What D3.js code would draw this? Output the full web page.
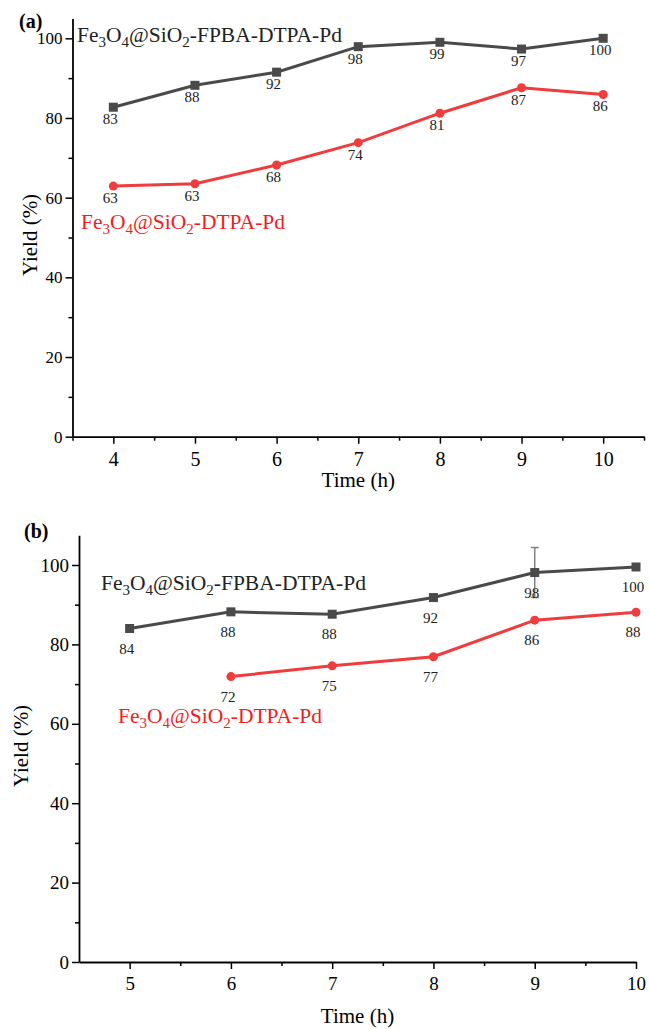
<!DOCTYPE html>
<html>
<head>
<meta charset="utf-8">
<script src="https://cdn.jsdelivr.net/npm/d3@7"></script>
<style>
  body { margin: 0; background: #fff; }
  svg text { font-family: "Times New Roman", "Liberation Serif", serif; }
</style>
</head>
<body>
<div id="chart"></div>
<script>
// panel (a)
const timesA = [4, 5, 6, 7, 8, 9, 10]
const fpbaA = [82.7, 88.2, 91.5, 97.9, 99.0, 97.3, 100]
const fpbaLabelsA = ["83", "88", "92", "98", "99", "97", "100"]
const dtpaA = [62.9, 63.5, 68.2, 73.8, 81.2, 87.6, 85.9]
const dtpaLabelsA = ["63", "63", "68", "74", "81", "87", "86"]

// panel (b)
const timesB = [5, 6, 7, 8, 9, 10]
const fpbaB = [84.0, 88.2, 87.6, 91.8, 98.1, 99.5]
const fpbaLabelsB = ["84", "88", "88", "92", "98", "100"]
const timesBred = [6, 7, 8, 9, 10]
const dtpaB = [71.9, 74.6, 76.9, 86.1, 88.1]
const dtpaLabelsB = ["72", "75", "77", "86", "88"]
const errB = [null, null, null, null, 6.3, null]

const yTicks = [0, 20, 40, 60, 80, 100]

// legend names, [text, is subscript]
const nameFpba = [["Fe", 0], ["3", 1], ["O", 0], ["4", 1], ["@SiO", 0], ["2", 1], ["-FPBA-DTPA-Pd", 0]]
const nameDtpa = [["Fe", 0], ["3", 1], ["O", 0], ["4", 1], ["@SiO", 0], ["2", 1], ["-DTPA-Pd", 0]]

const dark = "#4a4a4a"
const red = "#f03c3c"

const svg = d3.select("#chart").append("svg")
    .attr("width", 649)
    .attr("height", 1029)

function legendText(g, parts, x, y, color) {
    const t = g.append("text")
        .attr("x", x)
        .attr("y", y)
        .attr("fill", color)
        .style("font-size", "21.5px")
    let down = false
    parts.forEach(p => {
        const sub = p[1] === 1
        let dy = 0
        if (sub && !down) dy = 5
        if (!sub && down) dy = -5
        down = sub
        t.append("tspan")
            .attr("dy", dy)
            .style("font-size", sub ? "15px" : "21.5px")
            .text(p[0])
    })
}

function drawPanel(cfg) {
    const g = svg.append("g")

    const x = d3.scaleLinear().domain(cfg.xDomain).range(cfg.xRange)
    const y = d3.scaleLinear().domain(cfg.yDomain).range(cfg.yRange)

    // minor ticks
    g.append("g")
        .attr("transform", `translate(0,${cfg.yRange[0]})`)
        .call(d3.axisBottom(x).tickValues(cfg.xMinor).tickSize(4).tickSizeOuter(0).tickFormat(""))
        .call(a => a.select(".domain").remove())
    g.append("g")
        .attr("transform", `translate(${cfg.xRange[0]},0)`)
        .call(d3.axisLeft(y).tickValues([10, 30, 50, 70, 90]).tickSize(4).tickSizeOuter(0).tickFormat(""))
        .call(a => a.select(".domain").remove())

    // X axis
    const xa = g.append("g")
        .attr("transform", `translate(0,${cfg.yRange[0]})`)
        .call(d3.axisBottom(x).tickValues(cfg.xTicks).tickSize(7).tickSizeOuter(0).tickPadding(8).tickFormat(d3.format("d")))
    xa.selectAll("text").style("font-size", cfg.xTickFont).attr("fill", "#000")

    // Y axis
    const ya = g.append("g")
        .attr("transform", `translate(${cfg.xRange[0]},0)`)
        .call(d3.axisLeft(y).tickValues(yTicks).tickSize(7).tickSizeOuter(0).tickPadding(3))
    ya.selectAll("text").style("font-size", cfg.yTickFont).attr("fill", "#000")

    g.selectAll(".domain").attr("stroke", "#000").attr("stroke-width", 1.8)
    g.selectAll(".tick line").attr("stroke", "#000").attr("stroke-width", 1.5)

    // axis titles
    g.append("text")
        .attr("x", (cfg.xRange[0] + cfg.xRange[1]) / 2)
        .attr("y", cfg.xTitleY)
        .attr("text-anchor", "middle")
        .style("font-size", "21px")
        .text("Time (h)")

    g.append("text")
        .attr("transform", "rotate(-90)")
        .attr("x", -cfg.yTitleY)
        .attr("y", cfg.yTitleX)
        .attr("text-anchor", "middle")
        .style("font-size", "21px")
        .text("Yield (%)")

    // panel letter
    g.append("text")
        .attr("x", cfg.letterPos[0])
        .attr("y", cfg.letterPos[1])
        .style("font-size", "20px")
        .style("font-weight", "bold")
        .text(cfg.letter)

    const line = d3.line().x(d => x(d[0])).y(d => y(d[1]))

    // error bars
    const barData = cfg.black.t.map((t, i) => [t, cfg.black.v[i], cfg.black.err ? cfg.black.err[i] : null])
        .filter(d => d[2] != null)
    barData.forEach(d => {
        const eg = g.append("g").attr("stroke", "#808080").attr("stroke-width", 1.5)
        eg.append("line")
            .attr("x1", x(d[0])).attr("x2", x(d[0]))
            .attr("y1", y(d[1] - d[2])).attr("y2", y(d[1] + d[2]))
        ;[d[1] - d[2], d[1] + d[2]].forEach(v => {
            eg.append("line")
                .attr("x1", x(d[0]) - 4).attr("x2", x(d[0]) + 4)
                .attr("y1", y(v)).attr("y2", y(v))
        })
    })

    // black series
    const bd = cfg.black.t.map((t, i) => [t, cfg.black.v[i]])
    g.append("path")
        .datum(bd)
        .attr("fill", "none")
        .attr("stroke", dark)
        .attr("stroke-width", 3)
        .attr("d", line)
    g.selectAll(".sq")
        .data(bd)
        .enter().append("rect")
        .attr("x", d => x(d[0]) - 4.5)
        .attr("y", d => y(d[1]) - 4.5)
        .attr("width", 9)
        .attr("height", 9)
        .attr("fill", dark)

    // red series
    const rd = cfg.red.t.map((t, i) => [t, cfg.red.v[i]])
    g.append("path")
        .datum(rd)
        .attr("fill", "none")
        .attr("stroke", red)
        .attr("stroke-width", 3)
        .attr("d", line)
    g.selectAll(".ci")
        .data(rd)
        .enter().append("circle")
        .attr("cx", d => x(d[0]))
        .attr("cy", d => y(d[1]))
        .attr("r", 4.5)
        .attr("fill", red)

    // value labels
    ;[[bd, cfg.black.labels], [rd, cfg.red.labels]].forEach(([pts, labels]) => {
        g.selectAll(null)
            .data(pts)
            .enter().append("text")
            .attr("x", d => x(d[0]) - 3)
            .attr("y", d => y(d[1]) + cfg.labelDy)
            .attr("text-anchor", "middle")
            .attr("fill", "#222")
            .style("font-size", "15px")
            .text((d, i) => labels[i])
    })

    legendText(g, nameFpba, cfg.legBlack[0], cfg.legBlack[1], "#222")
    legendText(g, nameDtpa, cfg.legRed[0], cfg.legRed[1], "#f51c1c")
}

drawPanel({
    letter: "(a)", letterPos: [19, 28],
    xDomain: [3.5, 10.5], xRange: [72.5, 644],
    yDomain: [0, 105], yRange: [436.7, 436.7 - 105 * 3.984],
    xTicks: timesA, xMinor: [3.5, 4.5, 5.5, 6.5, 7.5, 8.5, 9.5, 10.5],
    xTickFont: "20px", yTickFont: "17px",
    xTitleY: 487, yTitleX: 37, yTitleY: 235,
    labelDy: 17,
    black: { t: timesA, v: fpbaA, labels: fpbaLabelsA },
    red: { t: timesA, v: dtpaA, labels: dtpaLabelsA },
    legBlack: [77, 42], legRed: [81, 229]
})

drawPanel({
    letter: "(b)", letterPos: [24, 538],
    xDomain: [4.5, 10], xRange: [79, 636],
    yDomain: [0, 107.5], yRange: [962, 962 - 107.5 * 3.97],
    xTicks: timesB, xMinor: [5.5, 6.5, 7.5, 8.5, 9.5],
    xTickFont: "19px", yTickFont: "19px",
    xTitleY: 1023, yTitleX: 28, yTitleY: 746,
    labelDy: 25,
    black: { t: timesB, v: fpbaB, labels: fpbaLabelsB, err: errB },
    red: { t: timesBred, v: dtpaB, labels: dtpaLabelsB },
    legBlack: [101, 590], legRed: [118, 723]
})
</script>
</body>
</html>
